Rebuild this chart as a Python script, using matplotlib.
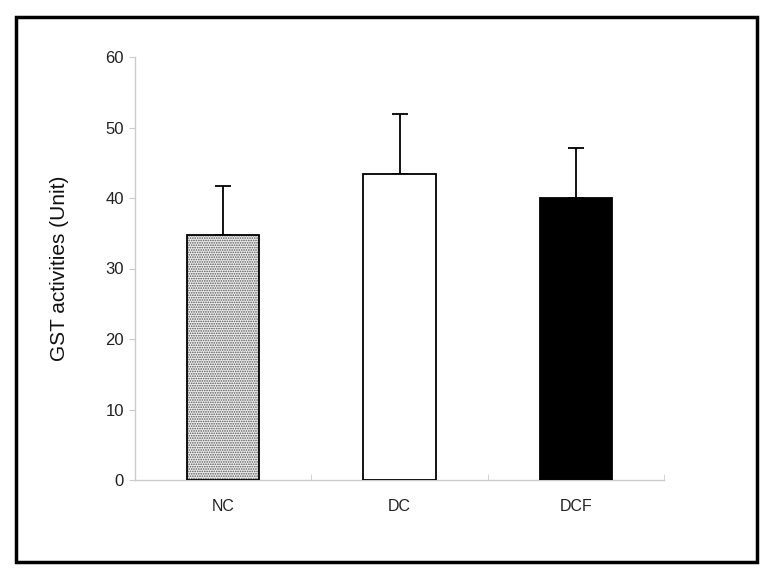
import matplotlib.pyplot as plt
from matplotlib.patches import Rectangle
import numpy as np

plt.rcParams['font.family'] = ['Liberation Sans', 'DejaVu Sans']
plt.rcParams['hatch.linewidth'] = 0.8

grupos = ['NC', 'DC', 'DCF']
medias = [34.8, 43.4, 40.0]
desvios = [6.9, 8.5, 7.1]

fig = plt.figure(figsize=(7.72, 5.78), dpi=100)

# moldura externa
fig.patches.append(Rectangle((16 / 772, 1 - 562 / 578), 741 / 772, 545 / 578,
                             transform=fig.transFigure, fill=False,
                             edgecolor='black', linewidth=2.5))

ax = fig.add_axes([135 / 772, 1 - 480 / 578, 529 / 772, 423 / 578])
x = np.arange(len(grupos))

cores = ['#eeeeee', 'white', 'black']
hatches = ['.......', None, None]
for i in range(len(grupos)):
    ax.bar(x[i], medias[i], width=0.41, color=cores[i], hatch=hatches[i],
           edgecolor='#555555' if hatches[i] else 'black', linewidth=0, zorder=2)
    ax.bar(x[i], medias[i], width=0.41, fill=False, edgecolor='black',
           linewidth=1.3, zorder=3)

ax.errorbar(x, medias, yerr=[np.zeros(3), desvios], fmt='none', ecolor='black',
            elinewidth=1.3, capsize=5.5, capthick=1.3, zorder=1)

ax.set_xlim(-0.5, 2.5)
ax.set_ylim(0, 60)
ax.set_yticks(range(0, 61, 10))
ax.set_xticks(x)
ax.set_xticklabels(grupos)
ax.set_xticks([0.5, 1.5, 2.5], minor=True)

for lado in ['top', 'right']:
    ax.spines[lado].set_visible(False)
for lado in ['left', 'bottom']:
    ax.spines[lado].set_color('#cccccc')
    ax.spines[lado].set_linewidth(1)

ax.tick_params(axis='x', which='major', length=0, pad=14, labelsize=11.5, labelcolor='#222222')
ax.tick_params(axis='x', which='minor', direction='in', length=4, color='#cccccc')
ax.tick_params(axis='y', length=4, color='#cccccc', labelsize=12, labelcolor='#222222', pad=4)

ax.set_ylabel('GST activities (Unit)', fontsize=15, labelpad=26, color='#111111')

fig.savefig('out.png', dpi=100)
